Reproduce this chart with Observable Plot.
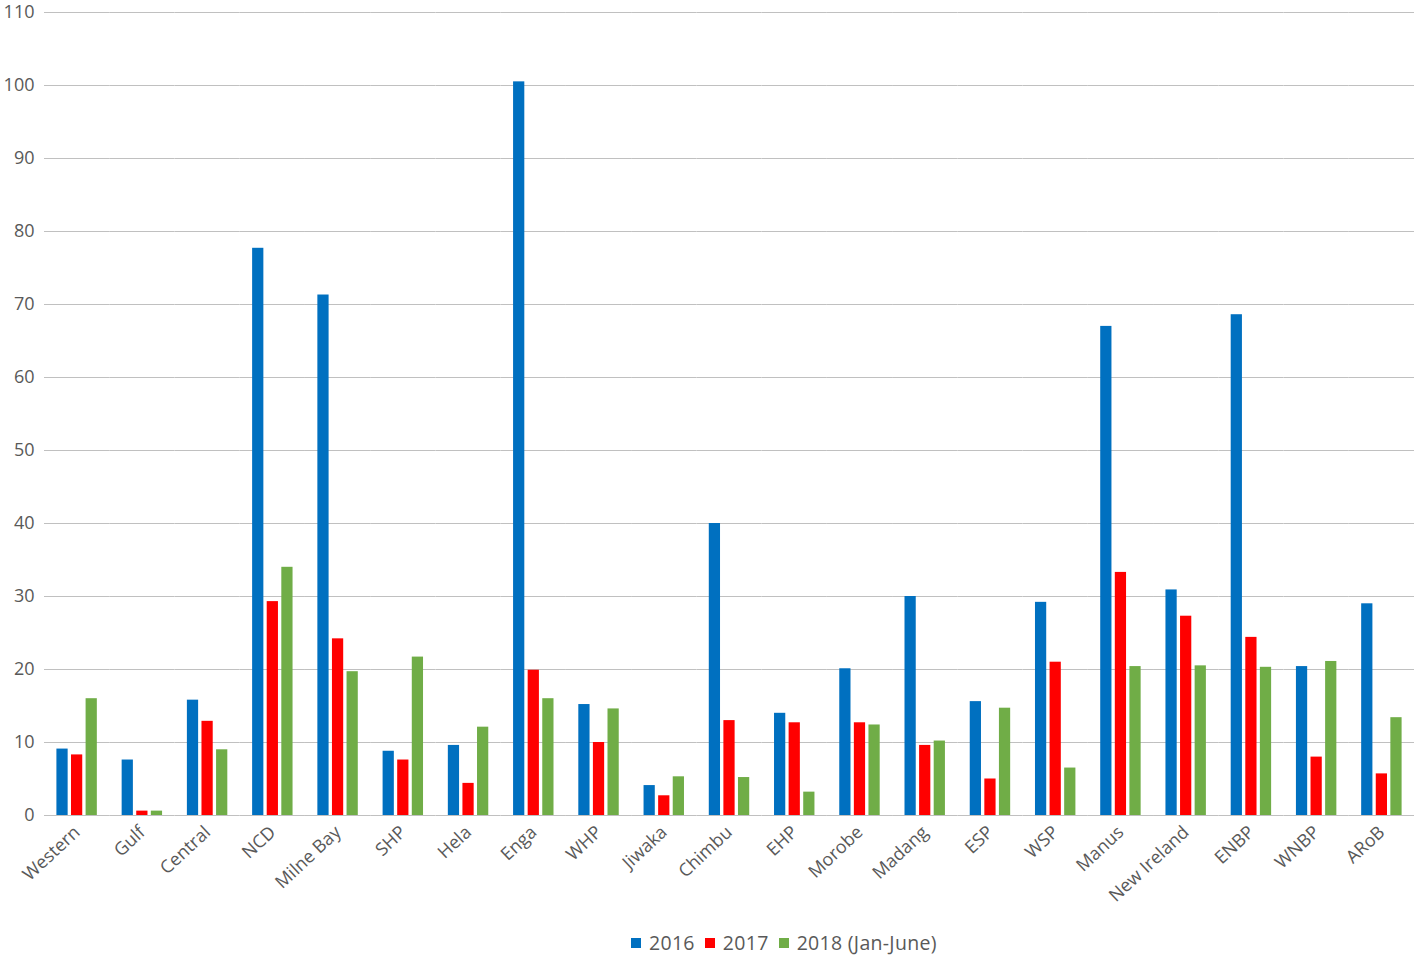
<!DOCTYPE html>
<html>
<head>
<meta charset="utf-8">
<script src="https://cdn.jsdelivr.net/npm/d3@7"></script>
<script src="https://cdn.jsdelivr.net/npm/@observablehq/plot@0.6"></script>
<style>
  html, body { margin: 0; padding: 0; background: #fff; }
  #wrap { position: relative; width: 1418px; height: 957px; }
  g[aria-label="y-grid"] line { stroke: #c0c0c0; stroke-opacity: 1; }
  #legend { position: absolute; top: 929px; left: 631px; display: flex; align-items: center;
    font-family: "Open Sans", sans-serif; font-size: 19.5px; letter-spacing: 0.3px; color: #595959; white-space: nowrap; }
  #legend .sw { width: 10px; height: 10px; display: inline-block; margin-right: 8px; }
  #legend .it { display: flex; align-items: center; margin-right: 10px; }
</style>
</head>
<body>
<div id="wrap"><div id="chart"></div><div id="legend"></div></div>
<script>
const regions = ["Western","Gulf","Central","NCD","Milne Bay","SHP","Hela","Enga","WHP","Jiwaka","Chimbu","EHP","Morobe","Madang","ESP","WSP","Manus","New Ireland","ENBP","WNBP","ARoB"];
const seriesNames = ["2016","2017","2018 (Jan-June)"];
const v2016 = [9.1, 7.6, 15.8, 77.7, 71.3, 8.8, 9.6, 100.5, 15.2, 4.1, 40.0, 14.0, 20.1, 30.0, 15.6, 29.2, 67.0, 30.9, 68.6, 20.4, 29.0];
const v2017 = [8.3, 0.6, 12.9, 29.3, 24.2, 7.6, 4.4, 19.9, 10.0, 2.7, 13.0, 12.7, 12.7, 9.6, 5.0, 21.0, 33.3, 27.3, 24.4, 8.0, 5.7];
const v2018 = [16.0, 0.6, 9.0, 34.0, 19.7, 21.7, 12.1, 16.0, 14.6, 5.3, 5.2, 3.2, 12.4, 10.2, 14.7, 6.5, 20.4, 20.5, 20.3, 21.1, 13.4];
const colors = ["#0070C0", "#FF0000", "#70AD47"];
const yTicks = [0,10,20,30,40,50,60,70,80,90,100,110];

const seriesValues = [v2016, v2017, v2018];
const data = regions.flatMap((r, i) => seriesNames.map((s, j) => ({region: r, series: s, value: seriesValues[j][i]})));

const chart = Plot.plot({
  width: 1418,
  height: 920,
  marginTop: 12,
  marginBottom: 105,
  marginLeft: 44,
  marginRight: 4,
  style: {fontFamily: "Open Sans, sans-serif", fontSize: "18px", color: "#595959", background: "white", overflow: "visible"},
  fx: {domain: regions, padding: 0, round: false, label: null, tickRotate: -43, tickSize: 0, tickPadding: 14},
  x: {domain: seriesNames, axis: null, round: false, paddingInner: 0.23, paddingOuter: 0.85},
  y: {domain: [0, 110], ticks: yTicks, grid: true, label: null, tickSize: 0, tickPadding: 10},
  color: {domain: seriesNames, range: colors},
  marks: [
    Plot.barY(data, {fx: "region", x: "series", y: "value", fill: "series"})
  ]
});
document.getElementById("chart").appendChild(chart);

const legend = document.getElementById("legend");
seriesNames.forEach((s, i) => {
  const it = document.createElement("span");
  it.className = "it";
  const sw = document.createElement("span");
  sw.className = "sw";
  sw.style.background = colors[i];
  it.appendChild(sw);
  it.appendChild(document.createTextNode(s));
  legend.appendChild(it);
});
</script>
</body>
</html>
